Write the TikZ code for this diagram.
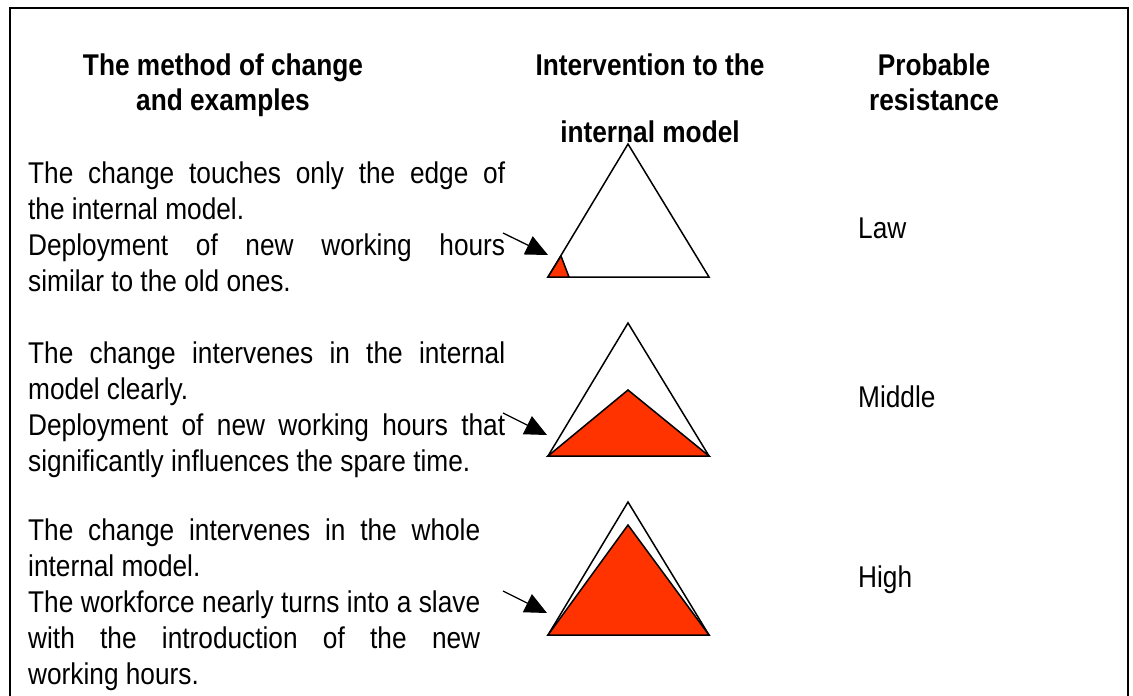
\documentclass[tikz,border=0pt]{standalone}
\usepackage{fontspec}
\setmainfont{Liberation Sans}[FakeStretch=0.875]
\usetikzlibrary{arrows.meta}
\definecolor{wedge}{HTML}{FF3300}
\newcommand{\jl}[1]{\makebox[477pt][s]{#1}}
\newcommand{\jls}[1]{\makebox[452pt][s]{#1}}

\begin{document}
\begin{tikzpicture}[x=1pt,y=-1pt,
    head/.style={font=\bfseries\fontsize{30}{35}\selectfont,align=center,anchor=north,inner sep=0pt},
    body/.style={font=\fontsize{30}{36}\selectfont,align=left,anchor=north west,inner sep=0pt},
    level/.style={font=\fontsize{30}{36}\selectfont,anchor=base west,inner sep=0pt},
    tri/.style={draw,line width=1.5pt,line join=miter},
    pointer/.style={-{Triangle[length=22pt,width=20pt]},line width=1.3pt}]
  \useasboundingbox (0,0) rectangle (1133,696);
  \draw[line width=2pt] (10,730) -- (10,8) -- (1128,8) -- (1128,730);

  % column heads
  \node[head] (hmethod) at (223,53.5) {The method of change\\and examples};
  \node[head] (hinter) at (650,53.5) {Intervention to the\\[32pt]internal model};
  \node[head] (hresist) at (934,53.5) {Probable\\resistance};

  % texts on the left
  \node[body] (text1) at (28,161.5) {\jl{The change touches only the edge of}\\
    the internal model.\\
    \jl{Deployment of new working hours}\\
    similar to the old ones.};
  \node[body] (text2) at (28,341.5) {\jl{The change intervenes in the internal}\\
    model clearly.\\
    \jl{Deployment of new working hours that}\\
    significantly influences the spare time.};
  \node[body] (text3) at (28,518.5) {\jls{The change intervenes in the whole}\\
    internal model.\\
    \jls{The workforce nearly turns into a slave}\\
    \jls{with the introduction of the new}\\
    working hours.};

  % resistance
  \node[level] (law) at (858,238) {Law};
  \node[level] (middle) at (858,407) {Middle};
  \node[level] (high) at (858,587) {High};

  % triangle 1
  \coordinate (top1) at (628,144);
  \coordinate (left1) at (548,277);
  \coordinate (right1) at (709,277);
  \draw[tri] (top1) -- (right1) -- (left1) -- cycle;
  \draw[tri,fill=wedge] (left1) -- (561,256) -- (569,277) -- cycle;

  % triangle 2
  \coordinate (top2) at (628,323);
  \coordinate (left2) at (548,456);
  \coordinate (right2) at (709,456);
  \draw[tri] (top2) -- (right2) -- (left2) -- cycle;
  \draw[tri,fill=wedge] (left2) -- (628,390) -- (right2) -- cycle;

  % triangle 3
  \coordinate (top3) at (628,502);
  \coordinate (left3) at (548,635);
  \coordinate (right3) at (709,635);
  \draw[tri] (top3) -- (right3) -- (left3) -- cycle;
  \draw[tri,fill=wedge] (left3) -- (628,525) -- (right3) -- cycle;

  % pointers
  \coordinate (from1) at (503,233);
  \coordinate (to1) at (548,255);
  \coordinate (from2) at (503,413);
  \coordinate (to2) at (547,435);
  \coordinate (from3) at (503,591);
  \coordinate (to3) at (547,613);
  \draw[pointer] (from1) -- (to1);
  \draw[pointer] (from2) -- (to2);
  \draw[pointer] (from3) -- (to3);
\end{tikzpicture}
\end{document}
